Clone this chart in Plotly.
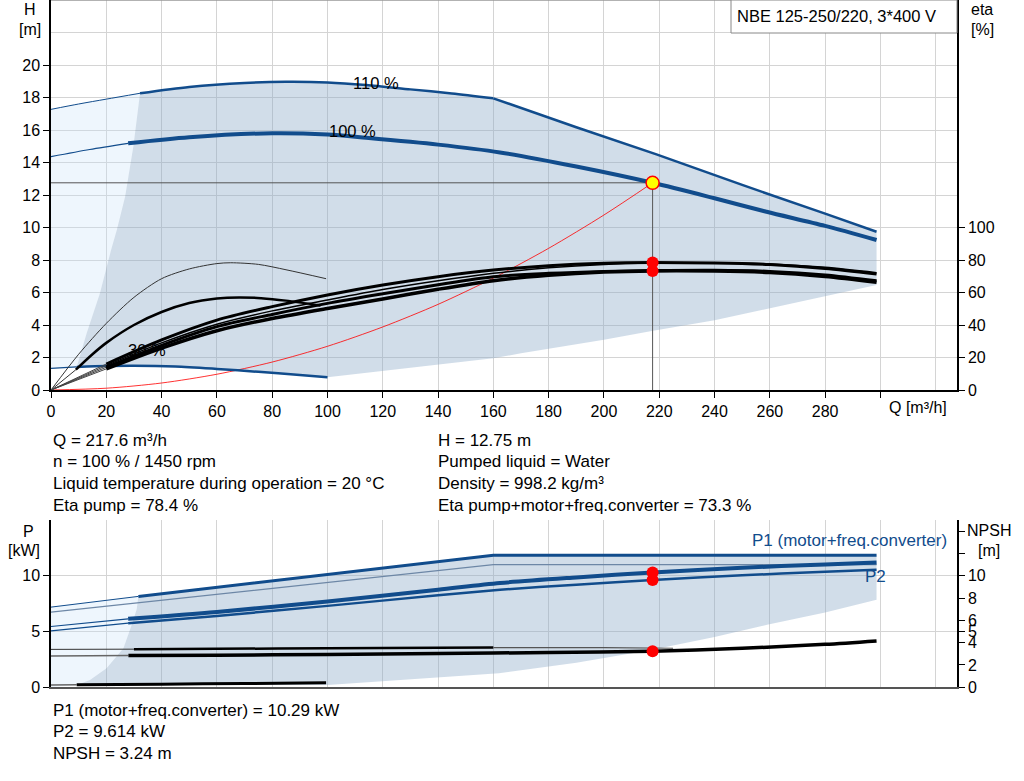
import plotly.graph_objects as go

# ---- pump curve data, Q in m3/h ----
op_q = 217.6
op_h = 12.75
op_eta_pump = 78.4
op_eta_total = 73.3
op_p1 = 10.29
op_p2 = 9.614
op_npsh = 3.24

# head curves [m]
q_110 = [0, 10, 20, 32.2, 50, 70, 85, 100, 114, 130, 145, 160, 190, 219, 250, 280, 298.6]
h_110 = [17.27, 17.6, 17.9, 18.26, 18.65, 18.9, 18.97, 18.93, 18.77, 18.5, 18.25, 17.95, 16.17, 14.5, 12.62, 10.85, 9.74]
q_100 = [0, 14, 27.9, 50, 80, 100, 114, 140, 162.4, 190, 217.6, 240, 258.8, 280, 298.6]
h_100 = [14.36, 14.8, 15.18, 15.55, 15.8, 15.72, 15.52, 15.1, 14.62, 13.75, 12.75, 11.8, 10.97, 10.1, 9.23]
q_30 = [0, 9.3, 20, 30, 45, 60, 75, 90, 100]
h_30 = [1.33, 1.42, 1.48, 1.5, 1.45, 1.3, 1.12, 0.93, 0.78]

# operating range limits (head chart)
lim_left_q = [32.2, 29.8, 26.8, 23.8, 21.7, 17.7, 12.9, 9.3]
lim_left_h = [18.26, 15.0, 11.9, 9.85, 8.6, 5.95, 3.5, 1.42]
lim_bot_q = [298.6, 270, 240, 217.3, 200, 170, 160, 100]
lim_bot_h = [6.46, 5.4, 4.3, 3.63, 3.1, 2.26, 1.95, 0.78]

# system curve
q_sys = [0, 20, 40, 60, 80, 100, 120, 140, 160, 180, 200, 217.6]
h_sys = [0, 0.11, 0.43, 0.97, 1.72, 2.69, 3.88, 5.27, 6.89, 8.72, 10.77, 12.75]

# efficiency curves [%]
q_eta = [0, 20, 40, 60, 80, 100, 120, 140, 160, 180, 200, 217.6, 240, 260, 280, 298.6]
eta_a = [0, 16, 30.8, 43, 51.3, 58.5, 64.6, 69.7, 73.8, 76.5, 78, 78.4, 78.2, 77.2, 74.8, 71.4]
eta_b = [0, 15, 29, 40.5, 48.7, 55.4, 61.8, 67.2, 71.8, 75.2, 77.3, 78.1, 78.3, 77.6, 75.5, 72.2]
eta_c = [0, 14, 27.5, 39, 46.5, 53.3, 59.2, 64.8, 69.7, 71.8, 73, 73.5, 73.7, 73, 70.8, 67.2]
eta_d = [0, 13, 25.8, 36.5, 44, 50.2, 56, 62, 67.3, 70.6, 72.6, 73.3, 73.2, 72.3, 69.8, 66.3]
q_eta_e = [0, 10, 20, 30, 40, 50, 60, 65, 75, 85, 99.5]
eta_e = [0, 22, 41, 57, 68.5, 74.5, 77.8, 78.3, 77.3, 74, 68.5]
q_eta_f = [0, 9, 15, 20, 30, 40, 50, 60, 68, 76, 85, 97.5]
eta_f = [0, 12.5, 22, 29, 40, 48, 53.5, 56.3, 57, 56.5, 55, 52]

# power curves [kW]
q_p1_110 = [0, 31.6, 60, 100, 130, 160, 200, 250, 298.6]
p1_110 = [7.19, 8.15, 8.95, 10.1, 10.96, 11.83, 11.83, 11.83, 11.83]
q_p2_110 = [0, 32, 80, 120, 160, 220, 298.6]
p2_110 = [6.74, 7.59, 8.87, 9.93, 11.0, 11.0, 11.0]
q_p = [0, 27.9, 60, 100, 140, 162.4, 190, 217.6, 250, 280, 298.6]
p1_100 = [5.45, 6.14, 6.75, 7.7, 8.75, 9.35, 9.85, 10.29, 10.72, 11.02, 11.2]
p2_100 = [5.06, 5.75, 6.4, 7.3, 8.25, 8.74, 9.2, 9.614, 10.05, 10.35, 10.54]

# operating range limits (power chart)
plim_left_q = [31.6, 31, 29.2, 26.2, 20.1, 14.1, 9.3]
plim_left_p = [8.15, 7.0, 5.6, 3.5, 1.7, 0.66, 0.2]
plim_bot_q = [298.6, 280, 259, 240, 217, 190, 162, 100, 9.3]
plim_bot_p = [7.84, 6.7, 5.6, 4.5, 3.35, 2.2, 1.26, 0.2, 0.2]

# NPSH curves [m]
q_npsh = [0, 28, 60, 100, 140, 180, 217.6, 250, 280, 298.6]
npsh_100 = [2.8, 2.84, 2.88, 2.95, 3.03, 3.12, 3.24, 3.5, 3.85, 4.16]
q_npsh_110 = [0, 30, 60, 100, 160, 200, 225]
npsh_110 = [3.4, 3.42, 3.45, 3.5, 3.56, 3.56, 3.5]
q_npsh_30 = [0, 9.3, 40, 70, 99.5]
npsh_30 = [0.2, 0.22, 0.28, 0.34, 0.41]

q_ticks = list(range(0, 301, 20))
h_ticks = list(range(0, 21, 2))
eta_ticks = list(range(0, 101, 20))
p_ticks = [0, 5, 10]
npsh_ticks = [0, 2, 4, 5, 6, 8, 10, 12, 14]

BLUE = "#114c8c"
FONT = "Liberation Sans, Arial, sans-serif"
W, H = 1024, 781


def seg(q, v, lo=-1, hi=1e9):
    pts = [(a, b) for a, b in zip(q, v) if lo <= a <= hi]
    return [p[0] for p in pts], [p[1] for p in pts]


def line(fig, q, v, ya, color, width, lo=-1, hi=1e9, shape="spline"):
    x, y = seg(q, v, lo, hi)
    xa = "x" if ya in ("y", "y2") else "x2"
    fig.add_trace(go.Scatter(x=x, y=y, xaxis=xa, yaxis=ya, mode="lines",
                             line=dict(color=color, width=width, shape=shape, smoothing=0.8),
                             hoverinfo="skip"))


def px(x, y):
    return x / W, 1 - y / H


fig = go.Figure()

# shaded areas, head chart
lq, lh = seg(q_110, h_110, hi=32.2)
sq, sh = seg(q_30, h_30, hi=9.3)
light_x = lq + lim_left_q[1:] + sq[::-1][1:]
light_y = lh + lim_left_h[1:] + sh[::-1][1:]
fig.add_trace(go.Scatter(x=light_x, y=light_y, fill="toself", mode="none",
                         fillcolor="rgba(200,225,250,0.3)", hoverinfo="skip"))
tq, th = seg(q_110, h_110, lo=32.2)
bq, bh = seg(q_30, h_30, lo=9.3, hi=100)
dark_x = tq + lim_bot_q + bq[::-1][1:] + lim_left_q[::-1][1:]
dark_y = th + lim_bot_h + bh[::-1][1:] + lim_left_h[::-1][1:]
fig.add_trace(go.Scatter(x=dark_x, y=dark_y, fill="toself", mode="none",
                         fillcolor="rgba(140,170,200,0.4)", hoverinfo="skip"))

# shaded areas, power chart
lq, lp = seg(q_p1_110, p1_110, hi=31.6)
fig.add_trace(go.Scatter(x=lq + plim_left_q[1:] + [0], y=lp + plim_left_p[1:] + [0],
                         xaxis="x2", yaxis="y3", fill="toself", mode="none",
                         fillcolor="rgba(200,225,250,0.3)", hoverinfo="skip"))
tq, tp = seg(q_p1_110, p1_110, lo=31.6)
fig.add_trace(go.Scatter(x=tq + plim_bot_q + plim_left_q[::-1][1:],
                         y=tp + plim_bot_p + plim_left_p[::-1][1:],
                         xaxis="x2", yaxis="y3", fill="toself", mode="none",
                         fillcolor="rgba(140,170,200,0.4)", hoverinfo="skip"))

# system curve and duty point lines
line(fig, q_sys, h_sys, "y", "rgba(255,0,0,0.8)", 1)
fig.add_trace(go.Scatter(x=[0, op_q, op_q], y=[op_h, op_h, 0], mode="lines",
                         line=dict(color="#555555", width=1), hoverinfo="skip"))

# head curves
line(fig, q_110, h_110, "y", BLUE, 1, hi=32.2)
line(fig, q_110, h_110, "y", BLUE, 2.5, lo=32.2, hi=160)
line(fig, q_110, h_110, "y", BLUE, 2.5, lo=160, shape="linear")
line(fig, q_100, h_100, "y", BLUE, 1.2, hi=27.9)
line(fig, q_100, h_100, "y", BLUE, 4, lo=27.9)
line(fig, q_30, h_30, "y", BLUE, 1.2, hi=9.3)
line(fig, q_30, h_30, "y", BLUE, 2.5, lo=9.3)

# efficiency curves
line(fig, q_eta_e, eta_e, "y2", "#333333", 1)
line(fig, q_eta_f, eta_f, "y2", "#333333", 1, hi=9)
line(fig, q_eta_f, eta_f, "y2", "black", 2.5, lo=9)
for eta, w in ((eta_a, 3), (eta_b, 1.5), (eta_c, 3), (eta_d, 3.5)):
    line(fig, q_eta, eta, "y2", "#444444", 1, hi=28)
    line(fig, q_eta, eta, "y2", "black", w, lo=20)

# power curves
line(fig, q_p1_110, p1_110, "y3", BLUE, 1, hi=31.6)
line(fig, q_p1_110, p1_110, "y3", BLUE, 3, lo=31.6, shape="linear")
line(fig, q_p2_110, p2_110, "y3", "#6d87a6", 1.2, shape="linear")
line(fig, q_p, p1_100, "y3", BLUE, 1.2, hi=27.9)
line(fig, q_p, p1_100, "y3", BLUE, 4, lo=27.9)
line(fig, q_p, p2_100, "y3", BLUE, 1.2, hi=27.9)
line(fig, q_p, p2_100, "y3", BLUE, 2.5, lo=27.9)

# NPSH curves
line(fig, q_npsh_110, npsh_110, "y4", "#333333", 1, hi=30)
line(fig, q_npsh_110, npsh_110, "y4", "black", 2.5, lo=30, hi=160)
line(fig, q_npsh_110, npsh_110, "y4", "#555555", 1.2, lo=160)
line(fig, q_npsh, npsh_100, "y4", "#666666", 1.5, hi=28)
line(fig, q_npsh, npsh_100, "y4", "black", 3.5, lo=28)
line(fig, q_npsh_30, npsh_30, "y4", "#666666", 1.5, hi=9.3)
line(fig, q_npsh_30, npsh_30, "y4", "black", 3, lo=9.3)

# duty point markers
red = dict(color="red", size=12)
fig.add_trace(go.Scatter(x=[op_q, op_q], y=[op_eta_pump, op_eta_total], xaxis="x", yaxis="y2",
                         mode="markers", marker=red, hoverinfo="skip"))
fig.add_trace(go.Scatter(x=[op_q], y=[op_h], mode="markers", hoverinfo="skip",
                         marker=dict(color="yellow", size=13, line=dict(color="red", width=1.5))))
fig.add_trace(go.Scatter(x=[op_q, op_q], y=[op_p1, op_p2], xaxis="x2", yaxis="y3",
                         mode="markers", marker=red, hoverinfo="skip"))
fig.add_trace(go.Scatter(x=[op_q], y=[op_npsh], xaxis="x2", yaxis="y4",
                         mode="markers", marker=red, hoverinfo="skip"))

x_dom = [51 / W, 957 / W]
grid = "#d4d4d4"
tick_font = dict(family=FONT, size=16, color="black")
axis_common = dict(showline=True, linecolor="black", linewidth=1.5, zeroline=False, automargin=False,
                   tickfont=tick_font, ticks="outside", ticklen=6, tickcolor="black")

fig.update_layout(
    width=W, height=H, margin=dict(l=0, r=0, t=0, b=0, pad=0),
    paper_bgcolor="white", plot_bgcolor="white", showlegend=False,
    font=dict(family=FONT, size=16, color="black"),
    xaxis=dict(domain=x_dom, anchor="y", range=[0, 327.7], tickvals=q_ticks,
               ticktext=[str(v) if v < 300 else "" for v in q_ticks],
               showgrid=True, gridcolor=grid,
               minor=dict(tickvals=[320], showgrid=True, gridcolor=grid, ticks=""),
               **axis_common),
    yaxis=dict(domain=[1 - 390 / H, 1], anchor="x", range=[0, 24], tickvals=h_ticks,
               showgrid=True, gridcolor=grid,
               minor=dict(tickvals=[22, 24], showgrid=True, gridcolor=grid, ticks=""),
               **axis_common),
    yaxis2=dict(overlaying="y", anchor="x", side="right", range=[0, 240], tickvals=eta_ticks,
                showgrid=False, **axis_common),
    xaxis2=dict(domain=x_dom, anchor="y3", range=[0, 327.7], tickvals=q_ticks,
                showticklabels=False, showgrid=True, gridcolor=grid, automargin=False,
                minor=dict(tickvals=[320], showgrid=True, gridcolor=grid, ticks=""),
                showline=True, linecolor="#555555", linewidth=1.5, ticks="", zeroline=False),
    yaxis3=dict(domain=[1 - 687.3 / H, 1 - 520 / H], anchor="x2", range=[0, 15],
                tickvals=p_ticks, showgrid=True, gridcolor=grid,
                minor=dict(tickvals=[15], showgrid=True, gridcolor="#999999", ticks=""),
                **axis_common),
    yaxis4=dict(overlaying="y3", anchor="x2", side="right", range=[0, 15], tickvals=npsh_ticks,
                ticktext=[str(v) if v <= 10 else "" for v in npsh_ticks],
                showgrid=False, **axis_common),
)

# top border of head chart
fig.add_shape(type="line", xref="paper", yref="paper", x0=x_dom[0], x1=x_dom[1], y0=1, y1=1,
              line=dict(color="#999999", width=1.5))

# title box
x0, y0 = px(731, 33)
x1, y1 = px(957, 0)
fig.add_shape(type="rect", xref="paper", yref="paper", x0=x0, y0=y0, x1=x1, y1=y1,
              line=dict(color="#888888", width=1), fillcolor="white")


def text(x, y, s, anchor="left", color="black", size=16):
    xp, yp = px(x, y)
    fig.add_annotation(x=xp, y=yp, xref="paper", yref="paper", text=s, showarrow=False,
                       xanchor=anchor, yanchor="middle",
                       font=dict(family=FONT, size=size, color=color))


text(735, 16, "NBE 125-250/220, 3*400 V", size=16.5)
text(30, 9, "H", "center")
text(30, 29, "[m]", "center")
text(982, 9, "eta", "center")
text(982, 29, "[%]", "center")
text(918, 407, "Q [m³/h]", "center")
text(28, 531, "P", "center")
text(24, 550, "[kW]", "center")
text(989, 530, "NPSH", "center")
text(989, 550, "[m]", "center")
text(849, 540, "P1 (motor+freq.converter)", "center", BLUE, size=17)
text(875, 576, "P2", "center", BLUE, size=17)

# curve labels in data coordinates
for s, xq, yh in (("110 %", 117.5, 18.9), ("100 %", 108.9, 15.94), ("30 %", 34.7, 2.46)):
    fig.add_annotation(x=xq, y=yh, xref="x", yref="y", text=s, showarrow=False,
                       font=dict(family=FONT, size=16.5, color="black"))

info_left = ["Q = 217.6 m³/h", "n = 100 % / 1450 rpm",
             "Liquid temperature during operation = 20 °C", "Eta pump = 78.4 %"]
info_right = ["H = 12.75 m", "Pumped liquid = Water", "Density = 998.2 kg/m³",
              "Eta pump+motor+freq.converter = 73.3 %"]
for i, s in enumerate(info_left):
    text(51, 440 + i * 21.7, s, size=17)
for i, s in enumerate(info_right):
    text(436, 440 + i * 21.7, s, size=17)
info_bottom = ["P1 (motor+freq.converter) = 10.29 kW", "P2 = 9.614 kW", "NPSH = 3.24 m"]
for i, s in enumerate(info_bottom):
    text(51, 710 + i * 21.7, s, size=17)

fig.write_html("out.html", post_script="document.body.style.margin = '0px';",
               config={"displayModeBar": False})
